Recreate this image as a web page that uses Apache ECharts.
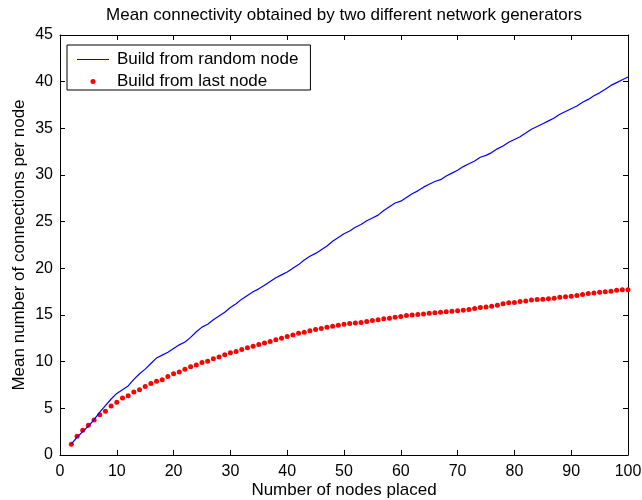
<!DOCTYPE html>
<html>
<head>
<meta charset="utf-8">
<script src="https://cdn.jsdelivr.net/npm/echarts@6/dist/echarts.min.js"></script>
<style>html,body{margin:0;padding:0;background:#fff}#c{width:642px;height:500px}</style>
</head>
<body>
<div id="c"></div>
<script>
var xValues = [];
for (var i = 2; i <= 100; i++) xValues.push(i);

var randomNode = [1.2,1.9,2.5,3.1,3.8,4.6,5.3,6.0,6.6,7.0,7.4,8.1,8.7,9.2,9.8,10.4,10.7,11.0,11.4,
11.8,12.1,12.6,13.2,13.7,14.0,14.5,14.9,15.3,15.8,16.2,16.7,17.1,17.5,17.8,18.2,18.6,19.0,19.3,19.6,
20.0,20.4,20.9,21.3,21.6,22.0,22.4,22.9,23.3,23.7,24.0,24.4,24.7,25.1,25.4,25.7,26.2,26.6,27.0,27.2,
27.6,28.0,28.3,28.7,29.0,29.3,29.5,29.9,30.2,30.5,30.9,31.2,31.5,31.9,32.1,32.4,32.8,33.1,33.5,33.8,
34.1,34.5,34.9,35.2,35.5,35.8,36.1,36.5,36.8,37.1,37.4,37.8,38.1,38.5,38.8,39.2,39.6,39.9,40.2,40.5];

var lastNode = [1.15,2.0,2.65,3.2,3.75,4.3,4.7,5.25,5.65,6.1,6.35,6.75,7.0,7.35,7.65,7.9,8.05,8.4,8.7,
8.9,9.2,9.45,9.65,9.9,10.05,10.3,10.5,10.75,10.95,11.1,11.3,11.5,11.65,11.85,12.0,12.15,12.35,12.5,12.7,
12.85,13.05,13.15,13.3,13.45,13.55,13.7,13.8,13.9,14.0,14.1,14.15,14.2,14.3,14.4,14.5,14.6,14.65,14.75,14.85,
14.95,15.0,15.05,15.1,15.2,15.25,15.3,15.35,15.4,15.45,15.5,15.6,15.7,15.8,15.85,15.95,16.05,16.2,16.3,16.35,
16.45,16.5,16.6,16.65,16.7,16.75,16.8,16.9,16.95,17.0,17.1,17.2,17.3,17.35,17.45,17.5,17.55,17.65,17.7,17.7];

var titleText = 'Mean connectivity obtained by two different network generators';
var xName = 'Number of nodes placed';
var yName = 'Mean number of connections per node';
var seriesNames = ['Build from random node', 'Build from last node'];

function pairs(xs, ys) { return xs.map(function (x, i) { return [x, ys[i]]; }); }

var font = 'Liberation Sans, Arial, Helvetica, sans-serif';
var axisCommon = {
  axisLine: { show: true, onZero: false, lineStyle: { color: '#000', width: 1 } },
  axisTick: { show: true, inside: true, length: 5, lineStyle: { color: '#000' } },
  splitLine: { show: false }
};

var chart = echarts.init(document.getElementById('c'), null, { renderer: 'canvas' });
chart.setOption({
  animation: false,
  backgroundColor: '#fff',
  title: {
    text: titleText, left: 344, textAlign: 'center', top: 7, padding: 0,
    textStyle: { fontFamily: font, fontSize: 17, fontWeight: 'normal', color: '#000' }
  },
  grid: { left: 60, right: 14, top: 35, bottom: 45, outerBoundsMode: 'none', containLabel: false },
  legend: {
    orient: 'vertical', left: 67, top: 45,
    backgroundColor: '#fff', borderColor: '#000', borderWidth: 1, borderRadius: 0,
    padding: [6, 12, 0, 10], itemGap: 5, itemWidth: 32, itemHeight: 5,
    textStyle: { fontFamily: font, fontSize: 17, lineHeight: 17, color: '#000', padding: [0, 0, 0, 3] },
    data: [
      { name: seriesNames[0], icon: 'path://M0,0L32,0L32,1L0,1Z', itemStyle: { color: '#0000ff' } },
      { name: seriesNames[1], icon: 'circle', itemStyle: { color: '#ff0000' } }
    ]
  },
  xAxis: [
    Object.assign({
      type: 'value', min: 0, max: 100, interval: 10, position: 'bottom',
      name: xName, nameLocation: 'middle', nameGap: 27, nameMoveOverlap: false,
      nameTextStyle: { fontFamily: font, fontSize: 17, color: '#000' },
      axisLabel: { fontFamily: font, fontSize: 16, color: '#000', margin: 9 }
    }, axisCommon),
    Object.assign({
      type: 'value', min: 0, max: 100, interval: 10, position: 'top',
      axisLabel: { show: false }
    }, axisCommon)
  ],
  yAxis: [
    Object.assign({
      type: 'value', min: 0, max: 45, interval: 5, position: 'left',
      name: yName, nameLocation: 'middle', nameGap: 32, nameMoveOverlap: false,
      nameTextStyle: { fontFamily: font, fontSize: 17, color: '#000' },
      axisLabel: { fontFamily: font, fontSize: 16, color: '#000', margin: 7 }
    }, axisCommon),
    Object.assign({
      type: 'value', min: 0, max: 45, interval: 5, position: 'right',
      axisLabel: { show: false }
    }, axisCommon)
  ],
  series: [
    {
      name: seriesNames[0], type: 'line', xAxisIndex: 0, yAxisIndex: 0,
      data: pairs(xValues, randomNode), showSymbol: false, symbol: 'none',
      lineStyle: { color: '#0000ff', width: 1.2 }, itemStyle: { color: '#0000ff' }
    },
    {
      name: seriesNames[1], type: 'scatter', xAxisIndex: 0, yAxisIndex: 0,
      data: pairs(xValues, lastNode), symbol: 'circle', symbolSize: 5,
      itemStyle: { color: '#ff0000', opacity: 1 }
    }
  ]
});
</script>
</body>
</html>
